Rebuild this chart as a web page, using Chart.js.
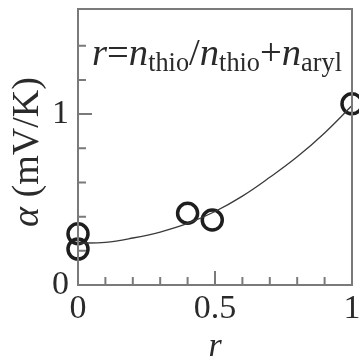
<!DOCTYPE html>
<html>
<head>
<meta charset="utf-8">
<script src="https://cdn.jsdelivr.net/npm/chart.js@4.4.0/dist/chart.umd.min.js"></script>
<style>
  html, body { margin: 0; padding: 0; background: #fff; }
  #wrap { width: 359px; height: 358px; }
</style>
</head>
<body>
<div id="wrap"><canvas id="chart"></canvas></div>
<script>
// measured points
const rValues = [0, 0, 0.4, 0.49, 1.0];
const alphaValues = [0.30, 0.21, 0.42, 0.38, 1.06];

// fitted curve
const fitR = [0, 0.1, 0.2, 0.3, 0.4, 0.5, 0.6, 0.7, 0.8, 0.9, 1.0];
const fitAlpha = [0.245, 0.25, 0.275, 0.31, 0.36, 0.43, 0.52, 0.63, 0.75, 0.89, 1.05];

// ticks
const xTicks = [0, 0.1, 0.2, 0.3, 0.4, 0.5, 0.6, 0.7, 0.8, 0.9, 1];
const xLabelled = [0, 0.5, 1];
const yTicks = [0, 0.2, 0.4, 0.6, 0.8, 1, 1.2, 1.4];
const yLabelled = [0, 1];

const SERIF = "'Liberation Serif', 'Times New Roman', serif";
const INK = '#2a2a2a';
const FRAME = '#7a7a7a';

function isIn(list, v) {
  return list.some(t => Math.abs(t - v) < 1e-6);
}

// pick a font size so the text run spans the wanted width
function fitRun(ctx, parts, size, width) {
  let w = 0;
  parts.forEach(p => {
    ctx.font = p.style + ' ' + (size * p.scale) + 'px ' + SERIF;
    w += ctx.measureText(p.text).width;
  });
  return size * width / w;
}

function drawRun(ctx, parts, size, x, y) {
  parts.forEach(p => {
    ctx.font = p.style + ' ' + (size * p.scale) + 'px ' + SERIF;
    ctx.fillText(p.text, x, y + (p.dy || 0) * size);
    x += ctx.measureText(p.text).width;
  });
}

const framePlugin = {
  id: 'frame',
  afterDraw(chart) {
    const { ctx, chartArea: a, scales } = chart;
    ctx.save();

    // inward tick marks
    ctx.strokeStyle = FRAME;
    ctx.lineWidth = 2;
    ctx.beginPath();
    xTicks.forEach(v => {
      const px = scales.x.getPixelForValue(v);
      const len = isIn(xLabelled, v) ? 14 : 8;
      ctx.moveTo(px, a.bottom);
      ctx.lineTo(px, a.bottom - len);
    });
    yTicks.forEach(v => {
      const py = scales.y.getPixelForValue(v);
      const len = isIn(yLabelled, v) ? 14 : 8;
      ctx.moveTo(a.left, py);
      ctx.lineTo(a.left + len, py);
    });
    ctx.stroke();

    // box
    ctx.strokeRect(a.left, a.top, a.right - a.left, a.bottom - a.top);

    // tick labels
    ctx.fillStyle = INK;
    ctx.font = '34px ' + SERIF;
    ctx.textBaseline = 'middle';
    ctx.textAlign = 'center';
    xLabelled.forEach(v => {
      ctx.fillText(String(v), scales.x.getPixelForValue(v), a.bottom + 24);
    });
    ctx.textAlign = 'right';
    yLabelled.forEach(v => {
      ctx.fillText(String(v), a.left - 9, scales.y.getPixelForValue(v));
    });

    // annotation r = n_thio / n_thio + n_aryl
    ctx.textBaseline = 'alphabetic';
    ctx.textAlign = 'left';
    const note = [
      { style: 'italic', scale: 1, text: 'r' },
      { style: 'normal', scale: 1, text: '=' },
      { style: 'italic', scale: 1, text: 'n' },
      { style: 'normal', scale: 0.68, text: 'thio', dy: 0.16 },
      { style: 'normal', scale: 1, text: '/' },
      { style: 'italic', scale: 1, text: 'n' },
      { style: 'normal', scale: 0.68, text: 'thio', dy: 0.16 },
      { style: 'normal', scale: 1, text: '+' },
      { style: 'italic', scale: 1, text: 'n' },
      { style: 'normal', scale: 0.68, text: 'aryl', dy: 0.16 }
    ];
    const noteSize = fitRun(ctx, note, 38, 250);
    drawRun(ctx, note, noteSize, a.left + 14, 65);

    // y title: alpha (mV/K)
    const yTitle = [
      { style: 'italic', scale: 1, text: 'α' },
      { style: 'normal', scale: 1, text: ' (mV/K)' }
    ];
    const ySize = fitRun(ctx, yTitle, 34, 150);
    ctx.save();
    ctx.translate(28, 152);
    ctx.rotate(-Math.PI / 2);
    ctx.textBaseline = 'middle';
    drawRun(ctx, yTitle, ySize, -75, 0);
    ctx.restore();

    // x title: r
    ctx.font = 'italic 34px ' + SERIF;
    ctx.textAlign = 'center';
    ctx.textBaseline = 'alphabetic';
    ctx.fillText('r', (a.left + a.right) / 2, 356);

    ctx.restore();
  }
};

new Chart(document.getElementById('chart'), {
  type: 'scatter',
  data: {
    datasets: [
      {
        type: 'line',
        data: fitR.map((r, i) => ({ x: r, y: fitAlpha[i] })),
        borderColor: '#3a3a3a',
        borderWidth: 1.3,
        pointRadius: 0,
        tension: 0.4,
        fill: false
      },
      {
        data: rValues.map((r, i) => ({ x: r, y: alphaValues[i] })),
        pointStyle: 'circle',
        pointRadius: 10,
        borderWidth: 3.5,
        borderColor: '#1e1e1e',
        backgroundColor: 'rgba(0,0,0,0)',
        clip: false
      }
    ]
  },
  options: {
    animation: false,
    responsive: true,
    maintainAspectRatio: false,
    layout: { autoPadding: false, padding: { left: 0, right: 7, top: 9, bottom: 0 } },
    plugins: { legend: { display: false }, tooltip: { enabled: false } },
    scales: {
      x: {
        type: 'linear',
        min: 0,
        max: 1,
        afterBuildTicks: s => { s.ticks = xTicks.map(v => ({ value: v })); },
        afterFit: s => { s.height = 73; },
        grid: { display: false, drawTicks: false },
        border: { display: false },
        ticks: { display: false }
      },
      y: {
        type: 'linear',
        min: 0,
        max: 1.615,
        afterBuildTicks: s => { s.ticks = yTicks.map(v => ({ value: v })); },
        afterFit: s => { s.width = 78; },
        grid: { display: false, drawTicks: false },
        border: { display: false },
        ticks: { display: false }
      }
    }
  },
  plugins: [framePlugin]
});
</script>
</body>
</html>
